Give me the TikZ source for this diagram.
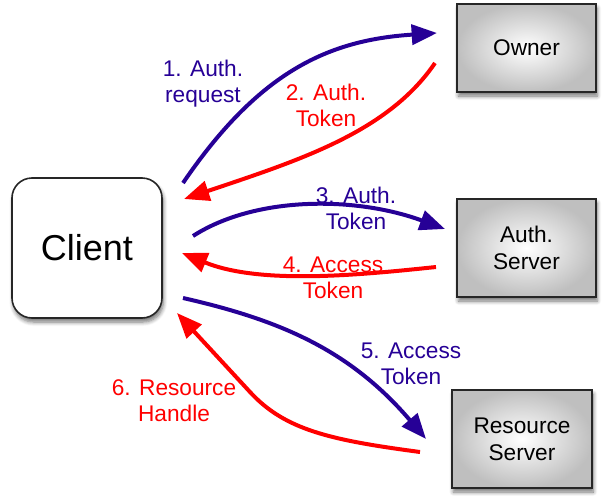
\documentclass[tikz,border=0pt]{standalone}
\usepackage{fontspec}
\setmainfont{Liberation Sans}
\usetikzlibrary{arrows.meta, positioning, shadows.blur}
\definecolor{flowblue}{RGB}{38,0,150}
\definecolor{flowred}{RGB}{255,0,0}

\begin{document}
\begin{tikzpicture}[
    x=0.75pt, y=-0.75pt,
    flow/.style={-{Triangle[length=19pt,width=15pt]}, line width=3pt}, % Arrow style
    boxshadow/.style={blur shadow={shadow xshift=1pt, shadow yshift=-3pt,
        shadow blur steps=6, shadow blur radius=3pt, shadow opacity=55}},
    srvbox/.style={draw=black!85, line width=1.2pt, shading=radial,
        inner color=white, outer color=black!25, align=center, boxshadow,
        font=\fontsize{17}{20}\selectfont, minimum width=104pt},
    msg/.style={align=center, font=\fontsize{17}{19.5}\selectfont, inner sep=0pt}
]
    \useasboundingbox (0,0) rectangle (607,496);

    % Boxes
    \node (client) [draw=black!85, line width=1.2pt, fill=white, rounded corners=15pt,
        minimum width=112.5pt, minimum height=105pt, boxshadow,
        font=\fontsize{27}{30}\selectfont] at (87,248) {Client};
    \node (owner) [srvbox, minimum height=66pt] at (526.5,48) {Owner};
    \node (authsrv) [srvbox, minimum height=73.5pt] at (526.5,248) {Auth.\\Server};
    \node (ressrv) [srvbox, minimum height=73.5pt, minimum width=105pt] at (522,439) {Resource\\Server};

    % Arrow ends
    \coordinate (a1) at (183,183);
    \coordinate (b1) at (437,33);
    \coordinate (a2) at (435,63);
    \coordinate (b2) at (184,199);
    \coordinate (a3) at (193,236);
    \coordinate (b3) at (445,229);
    \coordinate (a4) at (436,267);
    \coordinate (b4) at (182,253);
    \coordinate (a5) at (183,298);
    \coordinate (b5) at (426,439);
    \coordinate (a6) at (420,452);
    \coordinate (k6) at (250,392);
    \coordinate (b6) at (177,313);

    % Arrows
    \draw[flow, flowblue] (a1) .. controls (260,70) and (330,40) .. (b1);
    \draw[flow, flowred] (a2) .. controls (388,132) and (300,160) .. (b2);
    \draw[flow, flowblue] (a3) .. controls (255,196) and (355,196) .. (b3);
    \draw[flow, flowred] (a4) .. controls (360,275) and (260,285) .. (b4);
    \draw[flow, flowblue] (a5) .. controls (280,320) and (350,350) .. (b5);
    \draw[flow, flowred] (a6) .. controls (330,440) and (285,430) .. (k6) -- (b6);

    % Labels
    \node (l1) [msg, text=flowblue] at (203,84) {1. Auth.\\request};
    \node (l2) [msg, text=flowred] at (326,105) {2. Auth.\\Token};
    \node (l3) [msg, text=flowblue] at (356,208) {3. Auth.\\Token};
    \node (l4) [msg, text=flowred] at (333,278) {4. Access\\Token};
    \node (l5) [msg, text=flowblue] at (411,364) {5. Access\\Token};
    \node (l6) [msg, text=flowred] at (174,401) {6. Resource\\Handle};

\end{tikzpicture}
\end{document}
